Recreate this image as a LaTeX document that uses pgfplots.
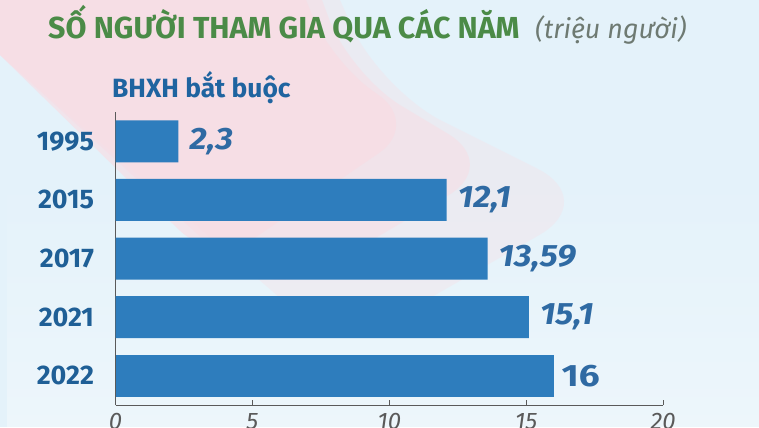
\documentclass[border=0pt]{standalone}
\usepackage{pgfplots}
\pgfplotsset{compat=1.18}
\usetikzlibrary{fadings}
\usepackage{fontspec}
\setmainfont{Fira Sans}
\newfontfamily\valfont{Fira Sans}[FakeStretch=1.1]
\newfontfamily\bigfont{Fira Sans}[FakeStretch=1.2]
\definecolor{bg}{HTML}{E4F2FA}
\definecolor{pinkbg}{HTML}{FADBE2}
\definecolor{titlegreen}{HTML}{4B8B47}
\definecolor{titlegray}{HTML}{6E7A72}
\definecolor{subblue}{HTML}{1F64A0}
\definecolor{yearblue}{HTML}{1F5F96}
\definecolor{barblue}{HTML}{2E7DBD}
\definecolor{valblue}{HTML}{2F6AA3}
\definecolor{axisgray}{HTML}{5A5A5A}
\tikzfading[name=whitefade, left color=transparent!0, right color=transparent!100]
\begin{document}
\begin{tikzpicture}[x=1bp,y=1bp]
\useasboundingbox (0,0) rectangle (759,427);
\clip (0,0) rectangle (759,427);
\fill[bg] (0,0) rectangle (759,427);
\fill[white, opacity=0.35, path fading=whitefade, fading angle=90] (0,0) rectangle (759,260);
\begin{scope}[shift={(0,427)},yscale=-1]
\fill[pinkbg, opacity=0.3] (0,0) -- (340,0) [rounded corners=70] -- (380,90) -- (600,200) -- (340,350) [sharp corners] -- (0,55) -- cycle;
\fill[pinkbg, opacity=0.45] (0,0) -- (322,0) [rounded corners=60] -- (350,75) -- (500,165) -- (270,300) [sharp corners] -- (0,55) -- cycle;
\fill[pinkbg, opacity=0.6] (0,0) -- (306,0) [rounded corners=50] -- (330,60) -- (420,125) -- (215,265) [sharp corners] -- (0,55) -- cycle;
\end{scope}
\node[anchor=base west, inner sep=0, font=\fontsize{30.5}{30.5}\selectfont\bfseries, text=titlegreen] at (48,388) {SỐ NGƯỜI THAM GIA QUA CÁC NĂM};
\node[anchor=base west, inner sep=0, font=\fontsize{27}{27}\selectfont\itshape, text=titlegray] at (535,388) {(triệu người)};
\node[anchor=base west, inner sep=0, font=\fontsize{26.5}{26.5}\selectfont\bfseries, text=subblue] at (112,330) {BHXH bắt buộc};
\begin{axis}[
  at={(115.5bp,22bp)}, anchor=south west, scale only axis,
  width=547.5bp, height=293bp,
  xmin=0, xmax=20, ymin=-0.5, ymax=4.5,
  axis x line*=bottom, axis y line*=left,
  axis line style={draw=axisgray, line width=0.9bp},
  xtick={0,5,10,15,20}, tick align=inside, major tick length=5bp,
  x tick style={draw=axisgray, line width=0.9bp},
  ytick={0,1,2,3,4}, yticklabels={2022,2021,2017,2015,1995},
  y tick style={draw=none},
  /pgf/number format/assume math mode=true,
  xticklabel style={font=\fontsize{24}{24}\selectfont\itshape, text=axisgray, yshift=-5bp},
  yticklabel style={font=\fontsize{27}{27}\selectfont\bfseries, text=yearblue, xshift=-18bp},
  clip=false,
]
\addplot[xbar, bar width=42bp, bar shift=0pt, fill=barblue, draw=none,
  nodes near coords, point meta=explicit symbolic,
  nodes near coords align={horizontal},
  every node near coord/.style={anchor=west, inner sep=0pt, xshift=11bp, font=\valfont\fontsize{31}{31}\selectfont\bfseries\itshape, text=valblue}]
  coordinates {(2.3,4) [2,3] (12.1,3) [12,1] (13.59,2) [13,59] (15.1,1) [15,1]};
\addplot[xbar, bar width=42bp, bar shift=0pt, fill=barblue, draw=none,
  nodes near coords, point meta=explicit symbolic,
  nodes near coords align={horizontal},
  every node near coord/.style={anchor=west, inner sep=0pt, xshift=8bp, font=\bigfont\fontsize{31}{31}\selectfont\bfseries, text=valblue}]
  coordinates {(16,0) [16]};
\end{axis}
\end{tikzpicture}
\end{document}
